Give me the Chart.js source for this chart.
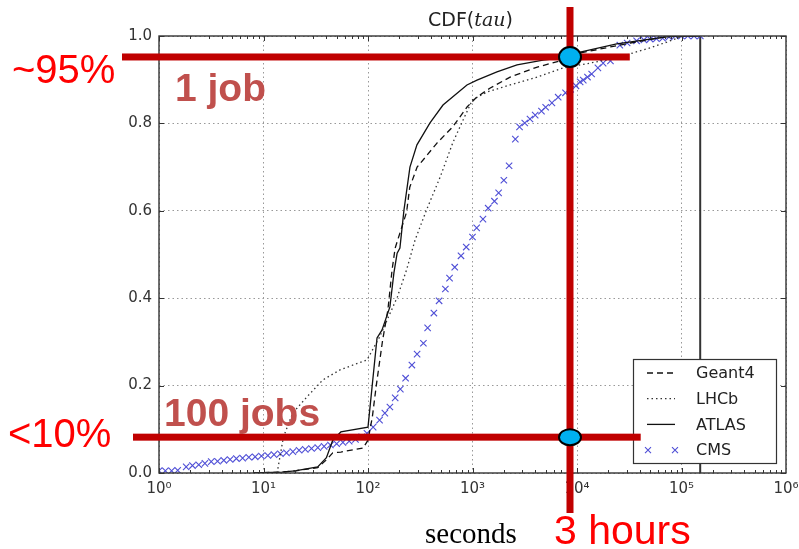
<!DOCTYPE html>
<html>
<head>
<meta charset="utf-8">
<script src="https://cdn.jsdelivr.net/npm/chart.js@4.4.1/dist/chart.umd.min.js"></script>
<style>
    html, body { margin: 0; padding: 0; background: #fff; }
    #wrap { position: relative; width: 799px; height: 549px; overflow: hidden; }
    #cdf { position: absolute; left: 0; top: 0; }
    .note { position: absolute; white-space: nowrap; line-height: 1; }
    .big { font-family: "Liberation Sans", Arial, sans-serif; font-size: 40px; color: #ff0000; }
    .jobs { font-family: "Liberation Sans", Arial, sans-serif; font-size: 39px; font-weight: bold; color: #c0504d; }
</style>
</head>
<body>
<div id="wrap">
    <canvas id="cdf" width="799" height="549"></canvas>
    <div class="note" id="title" style="left:428px; top:10px; font-family:'DejaVu Sans'; font-size:19px; color:#222;">CDF(<span style="font-family:'DejaVu Serif'; font-style:italic;">tau</span>)</div>
    <div class="note big" style="left:12px; top:49px;">~95%</div>
    <div class="note big" style="left:8px; top:413px;">&lt;10%</div>
    <div class="note jobs" style="left:175px; top:68px;">1 job</div>
    <div class="note jobs" style="left:164px; top:393px;">100 jobs</div>
    <div class="note big" style="left:554px; top:510px; font-size:41px;">3 hours</div>
    <div class="note" style="left:425px; top:519px; font-family:'Liberation Serif', serif; font-size:29px; color:#000;">seconds</div>
</div>
<script>
// axis ticks
const xTicks = [1, 10, 100, 1000, 10000, 100000, 1000000];
const xTickLabels = ['10⁰', '10¹', '10²', '10³', '10⁴', '10⁵', '10⁶'];
const yTicks = [0, 0.2, 0.4, 0.6, 0.8, 1.0];

// series (x in seconds, y = cumulative fraction)
const geant4X = [8, 15, 20, 33, 40, 46, 55, 89.5, 100, 110, 120, 138, 155, 170, 182, 234, 251, 295, 355, 457, 646, 891, 1096, 1479, 2291, 4169, 7413, 10715, 20893, 32359, 77625, 150000];
const geant4Y = [0, 0.002, 0.005, 0.012, 0.03, 0.046, 0.048, 0.057, 0.075, 0.128, 0.2, 0.304, 0.373, 0.465, 0.515, 0.597, 0.654, 0.70, 0.723, 0.755, 0.792, 0.838, 0.86, 0.881, 0.906, 0.929, 0.945, 0.961, 0.975, 0.984, 1.0, 1.0];

const lhcbX = [13.5, 15.5, 19, 26, 37, 54, 98, 129, 191, 234, 282, 363, 490, 646, 813, 1000, 1380, 2291, 4169, 7413, 11482, 23988, 50119, 72444, 102329, 150000];
const lhcbY = [0, 0.082, 0.137, 0.174, 0.213, 0.236, 0.259, 0.311, 0.403, 0.465, 0.533, 0.602, 0.677, 0.755, 0.808, 0.854, 0.872, 0.888, 0.906, 0.927, 0.935, 0.950, 0.973, 0.986, 1.0, 1.0];

const atlasX = [8, 15, 20, 33, 40, 46, 55, 100, 122, 136, 162, 177, 190, 202, 221, 252, 294, 392, 522, 885, 1104, 1714, 2667, 4732, 8570, 10715, 23988, 50119, 72444, 97724, 150000];
const atlasY = [0, 0.002, 0.005, 0.014, 0.035, 0.075, 0.094, 0.105, 0.309, 0.327, 0.38, 0.458, 0.503, 0.515, 0.602, 0.70, 0.751, 0.801, 0.842, 0.888, 0.899, 0.918, 0.934, 0.945, 0.952, 0.963, 0.982, 0.993, 0.998, 1.0, 1.0];

const cmsX = [1, 1.15, 1.32, 1.51, 1.82, 2.09, 2.40, 2.75, 3.16, 3.63, 4.17, 4.79, 5.50, 6.31, 7.24, 8.32, 9.55, 11.0, 12.6, 14.5, 16.6, 19.1, 21.9, 25.1, 28.8, 33.1, 38.0, 43.7, 50.1, 57.5, 66.1, 75.9, 87.1, 97.7, 112,
    129, 145, 162, 182, 204, 229, 263, 295, 339, 372, 427, 479, 550, 603, 676, 776, 871, 1000, 1096, 1259, 1413, 1622, 1778, 1995, 2239, 2570, 2818, 3162, 3548, 3981, 4571, 5012, 5754, 6607, 7762, 8710, 9772,
    10715, 11482, 12589, 13804, 15849, 17783, 20893, 25704, 30200, 37154, 43652, 50119, 57544, 66069, 75858, 87096, 100000, 114815, 131826, 151356];
const cmsY = [0.005, 0.005, 0.005, 0.006, 0.014, 0.017, 0.019, 0.022, 0.026, 0.027, 0.029, 0.031, 0.033, 0.034, 0.036, 0.037, 0.039, 0.040, 0.042, 0.044, 0.046, 0.049, 0.052, 0.054, 0.056, 0.058, 0.061, 0.064, 0.067, 0.070, 0.073, 0.077, 0.083, 0.091, 0.105,
    0.121, 0.137, 0.151, 0.172, 0.192, 0.217, 0.247, 0.272, 0.297, 0.332, 0.366, 0.394, 0.421, 0.446, 0.471, 0.497, 0.517, 0.540, 0.561, 0.581, 0.606, 0.622, 0.641, 0.670, 0.703, 0.764, 0.792, 0.801, 0.810, 0.819, 0.828, 0.837, 0.847, 0.860, 0.870, 0.878, 0.886,
    0.895, 0.899, 0.906, 0.913, 0.927, 0.938, 0.943, 0.979, 0.984, 0.989, 0.991, 0.993, 0.994, 0.995, 0.998, 1.0, 1.0, 1.0, 1.0, 1.0];

// the dark vertical line near 1.5e5 s
const cutoffX = [151000, 151000];
const cutoffY = [0, 1];

// annotation values
const threeHours = 8570;
const highShare = 0.952;
const lowShare = 0.082;

const pts = (xs, ys) => xs.map((v, i) => ({ x: v, y: ys[i] }));

const frameAndNotes = {
    id: 'frameAndNotes',
    afterDatasetsDraw(chart) {
        const { ctx, chartArea: a, scales: { x, y } } = chart;
        ctx.save();

        // box + inward ticks
        ctx.strokeStyle = '#333';
        ctx.lineWidth = 1.4;
        ctx.strokeRect(a.left, a.top, a.right - a.left, a.bottom - a.top);
        ctx.lineWidth = 1;
        ctx.beginPath();
        for (let e = 0; e < 6; e++) {
            for (let m = 1; m < 10; m++) {
                const px = Math.round(x.getPixelForValue(m * Math.pow(10, e))) + 0.5;
                const len = m === 1 ? 5 : 3;
                ctx.moveTo(px, a.bottom); ctx.lineTo(px, a.bottom - len);
                ctx.moveTo(px, a.top); ctx.lineTo(px, a.top + len);
            }
        }
        yTicks.forEach(v => {
            const py = Math.round(y.getPixelForValue(v)) + 0.5;
            ctx.moveTo(a.left, py); ctx.lineTo(a.left + 5, py);
            ctx.moveTo(a.right, py); ctx.lineTo(a.right - 5, py);
        });
        ctx.stroke();

        // legend
        const lx = a.right - 153, ly = a.top + 323, lw = 143, lh = 104;
        ctx.fillStyle = '#fff';
        ctx.fillRect(lx, ly, lw, lh);
        ctx.strokeStyle = '#333';
        ctx.lineWidth = 1.2;
        ctx.strokeRect(lx + 0.5, ly + 0.5, lw, lh);
        ctx.font = '16px "DejaVu Sans"';
        ctx.textBaseline = 'middle';
        chart.data.datasets.slice(0, 4).forEach((ds, i) => {
            const ry = ly + 14 + i * 25.7;
            if (ds.showLine) {
                ctx.strokeStyle = ds.borderColor;
                ctx.lineWidth = ds.borderWidth;
                ctx.setLineDash(ds.borderDash || []);
                ctx.beginPath();
                ctx.moveTo(lx + 14, ry); ctx.lineTo(lx + 42, ry);
                ctx.stroke();
                ctx.setLineDash([]);
            } else {
                ctx.strokeStyle = ds.pointBorderColor;
                ctx.lineWidth = 1.1;
                [lx + 15, lx + 42].forEach(cx => {
                    ctx.beginPath();
                    ctx.moveTo(cx - 3, ry - 3); ctx.lineTo(cx + 3, ry + 3);
                    ctx.moveTo(cx - 3, ry + 3); ctx.lineTo(cx + 3, ry - 3);
                    ctx.stroke();
                });
            }
            ctx.fillStyle = '#222';
            ctx.fillText(ds.label, lx + 63, ry + 1);
        });

        // red guide lines
        const yHigh = y.getPixelForValue(highShare);
        const yLow = y.getPixelForValue(lowShare);
        const xMark = x.getPixelForValue(threeHours);
        ctx.fillStyle = '#c00000';
        ctx.fillRect(a.left - 37, yHigh - 3.5, x.getPixelForValue(32000) - (a.left - 37), 7);
        ctx.fillRect(a.left - 26, yLow - 3.5, x.getPixelForValue(40700) - (a.left - 26), 7);
        ctx.fillRect(xMark - 3.5, a.top - 29, 7, a.bottom - a.top + 69);

        // crossing markers
        [[yHigh, 10], [yLow, 8]].forEach(([cy, ry]) => {
            ctx.beginPath();
            ctx.ellipse(xMark, cy, 11, ry, 0, 0, Math.PI * 2);
            ctx.fillStyle = '#00b0f0';
            ctx.fill();
            ctx.strokeStyle = '#000';
            ctx.lineWidth = 2;
            ctx.stroke();
        });
        ctx.restore();
    }
};

const dotGrid = { color: '#999', lineWidth: 1, drawTicks: false };
const dotBorder = { display: false, dash: [1.5, 3] };

new Chart(document.getElementById('cdf'), {
    type: 'scatter',
    data: {
        datasets: [
            { label: 'Geant4', data: pts(geant4X, geant4Y), showLine: true, borderColor: '#111', borderWidth: 1.3, borderDash: [6, 4], pointRadius: 0 },
            { label: 'LHCb', data: pts(lhcbX, lhcbY), showLine: true, borderColor: '#333', borderWidth: 1.3, borderDash: [1.5, 3], pointRadius: 0 },
            { label: 'ATLAS', data: pts(atlasX, atlasY), showLine: true, borderColor: '#111', borderWidth: 1.3, pointRadius: 0 },
            { label: 'CMS', data: pts(cmsX, cmsY), showLine: false, pointStyle: 'crossRot', pointRadius: 4.5, pointBorderColor: '#4f4fd6', pointBorderWidth: 1.1, pointBackgroundColor: '#4f4fd6' },
            { label: 'cutoff', data: pts(cutoffX, cutoffY), showLine: true, borderColor: '#333', borderWidth: 2, pointRadius: 0 }
        ]
    },
    options: {
        responsive: false,
        animation: false,
        events: [],
        layout: { padding: { left: 0, top: 36, right: 13, bottom: 0 } },
        plugins: { legend: { display: false }, tooltip: { enabled: false } },
        scales: {
            x: {
                type: 'logarithmic',
                min: 1,
                max: 1000000,
                border: dotBorder,
                grid: dotGrid,
                afterBuildTicks: scale => { scale.ticks = xTicks.map(v => ({ value: v, major: true })); },
                afterFit: scale => { scale.height = 76; scale.paddingLeft = 0; scale.paddingRight = 0; },
                ticks: {
                    autoSkip: false,
                    maxRotation: 0,
                    padding: 7,
                    color: '#333',
                    font: { family: 'DejaVu Sans', size: 15 },
                    callback: (v) => xTickLabels[xTicks.indexOf(v)]
                }
            },
            y: {
                min: 0,
                max: 1,
                border: dotBorder,
                grid: dotGrid,
                afterBuildTicks: scale => { scale.ticks = yTicks.map(v => ({ value: v })); },
                afterFit: scale => { scale.width = 159; scale.paddingTop = 0; scale.paddingBottom = 0; },
                ticks: {
                    padding: 7,
                    color: '#333',
                    font: { family: 'DejaVu Sans', size: 15 },
                    callback: v => Number(v).toFixed(1)
                }
            }
        }
    },
    plugins: [frameAndNotes]
});
</script>
</body>
</html>
